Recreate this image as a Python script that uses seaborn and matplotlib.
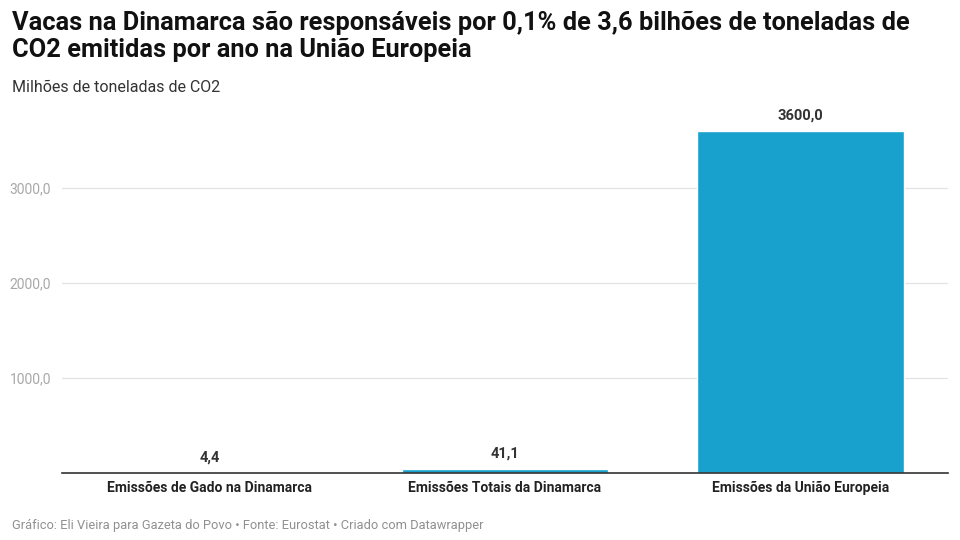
import numpy as np
import pandas as pd
import matplotlib
matplotlib.use("Agg")
import matplotlib.pyplot as plt
import seaborn as sns

categories = ["Emissões de Gado na Dinamarca", "Emissões Totais da Dinamarca", "Emissões da União Europeia"]
values = [4.4, 41.1, 3600.0]
yticks = [1000, 2000, 3000]

title = "Vacas na Dinamarca são responsáveis por 0,1% de 3,6 bilhões de toneladas de\nCO2 emitidas por ano na União Europeia"
subtitle = "Milhões de toneladas de CO2"
footer = "Gráfico: Eli Vieira para Gazeta do Povo • Fonte: Eurostat • Criado com Datawrapper"

def fmt(v):
    return f"{v:.1f}".replace(".", ",")

sns.set_style("white")
plt.rcParams["font.family"] = ["Roboto", "DejaVu Sans"]

df = pd.DataFrame({"cat": categories, "val": values})

fig = plt.figure(figsize=(9.6, 5.4), dpi=100)
ax = fig.add_axes([62/960, 1-473/540, (948-62)/960, (473-112)/540])

sns.barplot(data=df, x="cat", y="val", color="#18a1cd", saturation=1, width=0.7, ax=ax)

ax.set_xlim(-0.5, 2.5)
ax.set_ylim(0, 3800)
ax.set_yticks(yticks)
ax.set_yticklabels([fmt(t) for t in yticks], color="#a8a8a8", fontsize=10)
ax.yaxis.grid(True, color="#e3e3e3", linewidth=0.9)
ax.set_axisbelow(True)
ax.tick_params(axis="y", length=0, pad=8)
ax.tick_params(axis="x", length=0, pad=6)
for lbl in ax.get_xticklabels():
    lbl.set_fontweight("bold")
    lbl.set_fontsize(10)
    lbl.set_color("#222222")
ax.set_xlabel("")
ax.set_ylabel("")
for s in ["top", "right", "left"]:
    ax.spines[s].set_visible(False)
ax.spines["bottom"].set_color("#333333")
ax.spines["bottom"].set_linewidth(1.2)

for i, v in enumerate(values):
    ax.annotate(fmt(v), (i, v), xytext=(0, 6), textcoords="offset points",
                ha="center", va="bottom", fontsize=10.5, fontweight="bold", color="#333333")

fig.text(12/960, 1-36/540, title, ha="left", va="center", fontsize=18.3, fontweight="bold",
         color="#111111", linespacing=1.15)
fig.text(12/960, 1-87/540, subtitle, ha="left", va="center", fontsize=11.5, color="#333333")
fig.text(12/960, 1-525/540, footer, ha="left", va="center", fontsize=9.3, color="#909090")

fig.savefig("out.png", dpi=100)
